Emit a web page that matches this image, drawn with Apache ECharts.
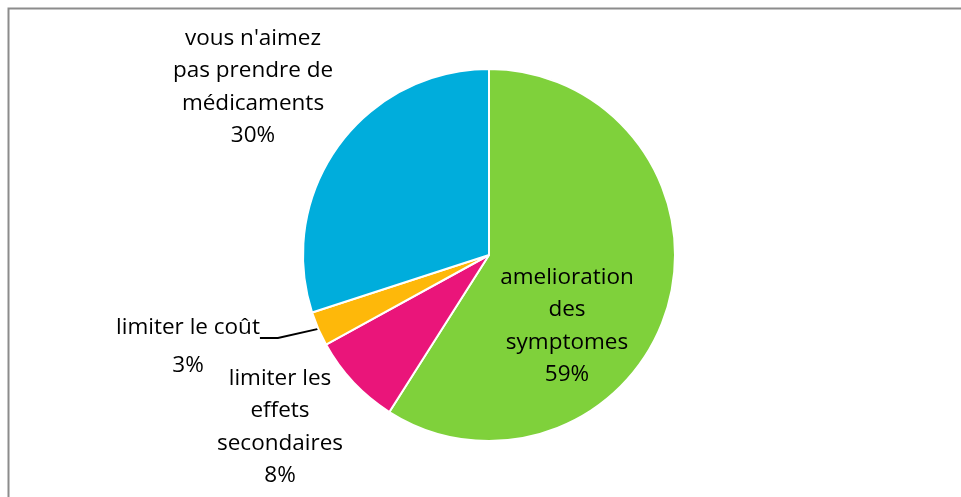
<!DOCTYPE html>
<html>
<head>
<meta charset="utf-8">
<script src="https://cdn.jsdelivr.net/npm/echarts@6/dist/echarts.min.js"></script>
<style>
  html, body { margin: 0; padding: 0; background: #fff; }
  #chart { width: 961px; height: 497px; }
</style>
</head>
<body>
<div id="chart"></div>
<script>
  // données du graphique
  var categories = ["amelioration\ndes\nsymptomes", "limiter les\neffets\nsecondaires", "limiter le coût", "vous n'aimez\npas prendre de\nmédicaments"];
  var values = [59, 8, 3, 30];
  var colors = ["#7FD13B", "#EA157A", "#FEB80A", "#00ADDC"];

  // positions des étiquettes (centre du bloc de texte)
  var labelPos = [[567, 326], [280, 427], [188, 338], [253, 87]];

  var pieData = [];
  for (var i = 0; i < values.length; i++) {
    pieData.push({
      name: categories[i],
      value: values[i],
      itemStyle: { color: colors[i] },
      label: i === 2
        ? {
            position: 'outside',
            // texte riche : le padding haut remonte le point d'attache du trait
            formatter: '{t|{b}}\n{t|{d}%}',
            rich: { t: { lineHeight: 38 } }
          }
        : { position: 'inside' },
      labelLine: { show: i === 2 }
    });
  }

  var chart = echarts.init(document.getElementById('chart'));
  chart.setOption({
    animation: false,
    graphic: [{
      type: 'rect',
      shape: { x: 8.5, y: 8.5, width: 1000, height: 600 },
      style: { fill: 'none', stroke: '#8c8c8c', lineWidth: 2 }
    }],
    series: [{
      type: 'pie',
      center: [489, 255],
      radius: 186,
      startAngle: 90,
      clockwise: true,
      avoidLabelOverlap: false,
      itemStyle: { borderColor: '#fff', borderWidth: 2 },
      label: {
        formatter: '{b}\n{d}%',
        color: '#000',
        fontFamily: 'Open Sans',
        fontSize: 22.5,
        lineHeight: 32.5,
        align: 'center',
        padding: [18, 0, 0, 0],
        distanceToLabelLine: 4
      },
      labelLine: {
        length: 28,
        length2: 18,
        lineStyle: { color: '#000', width: 2 }
      },
      labelLayout: function (params) {
        var p = labelPos[params.dataIndex];
        return { x: p[0], y: p[1], align: 'center', verticalAlign: 'middle' };
      },
      data: pieData
    }]
  });
</script>
</body>
</html>
